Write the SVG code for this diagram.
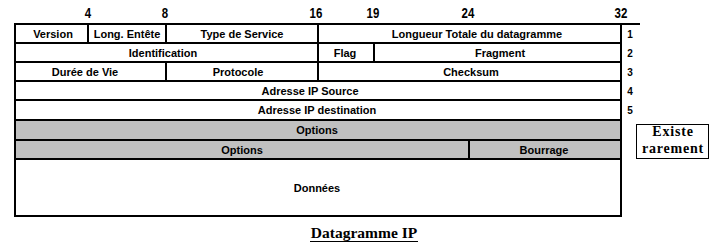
<svg xmlns="http://www.w3.org/2000/svg" width="715" height="252" viewBox="0 0 715 252">
  <style>
    .cell { fill: #ffffff; stroke: #000000; stroke-width: 2; }
    .opt { fill: #c0c0c0; stroke: #000000; stroke-width: 2; }
    .lbl { font-family: "Liberation Sans", Arial, sans-serif; font-weight: bold; font-size: 11px; fill: #000000; text-anchor: middle; }
    .bit { font-family: "Liberation Sans", Arial, sans-serif; font-weight: bold; font-size: 14px; fill: #000000; text-anchor: middle; }
    .row { font-family: "Liberation Sans", Arial, sans-serif; font-weight: bold; font-size: 10px; fill: #000000; text-anchor: middle; }
    .serif { font-family: "Liberation Serif", "Times New Roman", serif; font-weight: bold; fill: #000000; text-anchor: middle; }
  </style>
  <rect width="715" height="252" fill="#ffffff"/>

  <!-- bit offsets above the header (narrowed digits) -->
  <g id="bit-scale">
    <text class="bit" transform="translate(88 18) scale(0.82 1)">4</text>
    <text class="bit" transform="translate(165 18) scale(0.82 1)">8</text>
    <text class="bit" transform="translate(316 18) scale(0.82 1)">16</text>
    <text class="bit" transform="translate(373 18) scale(0.82 1)">19</text>
    <text class="bit" transform="translate(468 18) scale(0.82 1)">24</text>
    <text class="bit" transform="translate(621 18) scale(0.82 1)">32</text>
  </g>

  <!-- word 1 -->
  <g id="version"><rect class="cell" x="15" y="24" width="73" height="19"/><text class="lbl" x="53" y="37.5">Version</text></g>
  <g id="long-entete"><rect class="cell" x="88" y="24" width="78" height="19"/><text class="lbl" x="127" y="37.5">Long. Entête</text></g>
  <g id="type-service"><rect class="cell" x="166" y="24" width="152" height="19"/><text class="lbl" x="242" y="37.5">Type de Service</text></g>
  <g id="longueur-totale"><rect class="cell" x="318" y="24" width="303" height="19"/><text class="lbl" x="477" y="37.5">Longueur Totale du datagramme</text></g>

  <!-- word 2 -->
  <g id="identification"><rect class="cell" x="15" y="43" width="303" height="19"/><text class="lbl" x="163" y="56.5">Identification</text></g>
  <g id="flag"><rect class="cell" x="318" y="43" width="56" height="19"/><text class="lbl" x="345" y="56.5">Flag</text></g>
  <g id="fragment"><rect class="cell" x="374" y="43" width="247" height="19"/><text class="lbl" x="500" y="56.5">Fragment</text></g>

  <!-- word 3 -->
  <g id="duree-vie"><rect class="cell" x="15" y="62" width="151" height="19"/><text class="lbl" x="85" y="75.5">Durée de Vie</text></g>
  <g id="protocole"><rect class="cell" x="166" y="62" width="152" height="19"/><text class="lbl" x="238" y="75.5">Protocole</text></g>
  <g id="checksum"><rect class="cell" x="318" y="62" width="303" height="19"/><text class="lbl" x="471" y="75.5">Checksum</text></g>

  <!-- words 4 and 5 -->
  <g id="ip-source"><rect class="cell" x="15" y="81" width="606" height="19"/><text class="lbl" x="310" y="94.5">Adresse IP Source</text></g>
  <g id="ip-destination"><rect class="cell" x="15" y="100" width="606" height="20"/><text class="lbl" x="317" y="114">Adresse IP destination</text></g>

  <!-- optional words -->
  <g id="options-1"><rect class="opt" x="15" y="120" width="606" height="20"/><text class="lbl" x="317" y="134">Options</text></g>
  <g id="options-2"><rect class="opt" x="15" y="140" width="454" height="19"/><text class="lbl" x="242" y="153.5">Options</text></g>
  <g id="bourrage"><rect class="opt" x="469" y="140" width="152" height="19"/><text class="lbl" x="544" y="153.5">Bourrage</text></g>

  <!-- payload -->
  <g id="donnees"><rect class="cell" x="15" y="159" width="606" height="57"/><text class="lbl" x="317" y="191.5">Données</text></g>

  <!-- header rule running past the right edge -->
  <g id="rules">
    <line x1="14" y1="24" x2="640" y2="24" stroke="#000000" stroke-width="2"/>
  </g>

  <!-- word numbers -->
  <g id="word-numbers">
    <text class="row" x="630" y="38">1</text>
    <text class="row" x="630" y="57">2</text>
    <text class="row" x="630" y="76">3</text>
    <text class="row" x="630" y="95">4</text>
    <text class="row" x="630" y="114">5</text>
  </g>

  <!-- note beside the options -->
  <g id="note">
    <rect x="636.5" y="124.5" width="72" height="34" fill="#ffffff" stroke="#000000" stroke-width="1"/>
    <text class="serif" x="673" y="136" font-size="14" letter-spacing="0.8">Existe</text>
    <text class="serif" x="673" y="153" font-size="14" letter-spacing="0.8">rarement</text>
  </g>

  <!-- caption -->
  <g id="caption">
    <text class="serif" x="364" y="238" font-size="15.5">Datagramme IP</text>
    <line x1="310" y1="241.5" x2="418" y2="241.5" stroke="#000000" stroke-width="1"/>
  </g>
</svg>
